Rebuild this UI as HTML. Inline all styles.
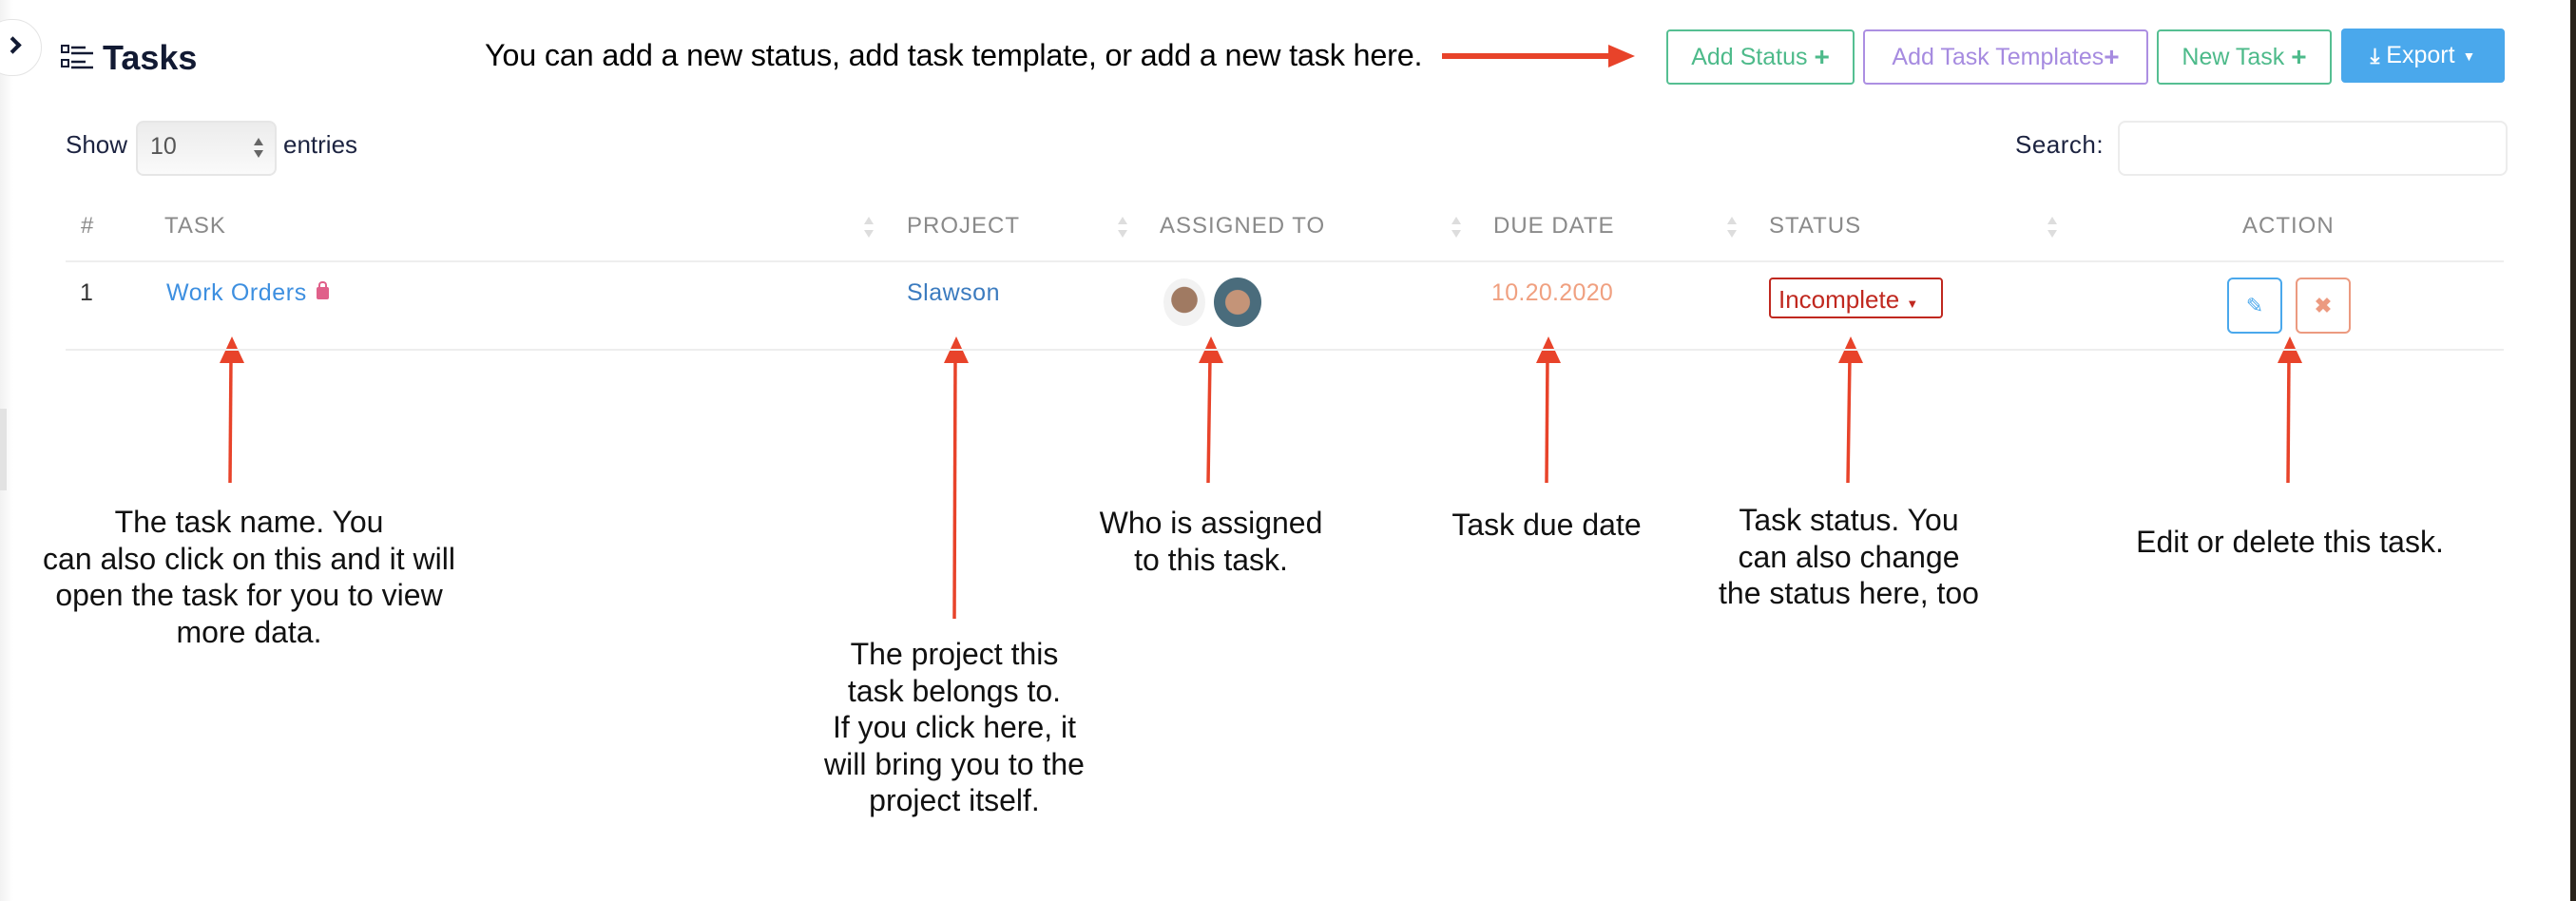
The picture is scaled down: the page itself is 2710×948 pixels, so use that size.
<!DOCTYPE html>
<html><head><meta charset="utf-8"><style>
*{margin:0;padding:0;box-sizing:border-box}
body{width:2710px;height:948px;position:relative;background:#fff;overflow:hidden;font-family:"Liberation Sans",Arial,sans-serif}
.a{position:absolute;white-space:nowrap}
.btn{position:absolute;border:2px solid;border-radius:4px;display:flex;align-items:center;justify-content:center;font-size:25px;font-family:"Liberation Sans",sans-serif}
.hd{position:absolute;top:224px;font-size:24px;color:#8a8a8a;letter-spacing:1px}
.sort{position:absolute;top:228px;width:10px;height:22px}
.sort:before{content:"";position:absolute;left:0;top:0;border-left:5px solid transparent;border-right:5px solid transparent;border-bottom:8px solid #ddd}
.sort:after{content:"";position:absolute;left:0;bottom:0;border-left:5px solid transparent;border-right:5px solid transparent;border-top:8px solid #ddd}
.note{position:absolute;text-align:center;font-size:32px;line-height:38.5px;color:#111;white-space:nowrap;transform:translateX(-50%)}
.row{position:absolute;top:294px;font-size:25px}
</style></head><body>
<div class="a" style="left:0;top:0;width:14px;height:948px;background:linear-gradient(90deg,#f2f2f2,#fff)"></div>
<div class="a" style="left:0;top:430px;width:7px;height:86px;background:#e2e2e2"></div>
<div class="a" style="left:2704px;top:0;width:6px;height:948px;background:#2a241c"></div>
<div class="a" style="left:-18px;top:20px;width:62px;height:60px;border-radius:30px;border:1.5px solid #e4e4e4;background:#fff"></div>
<div class="a" style="left:7px;top:41px;width:13px;height:13px;border-right:4px solid #121a33;border-bottom:4px solid #121a33;transform:rotate(-45deg)"></div>
<svg class="a" style="left:64px;top:46px" width="36" height="28"><g fill="none" stroke="#121a33" stroke-width="2"><rect x="1" y="2" width="7" height="7"/><rect x="1" y="17" width="7" height="7"/></g><g stroke="#121a33" stroke-width="2.5"><line x1="11" y1="4" x2="26" y2="4"/><line x1="11" y1="10" x2="34" y2="10"/><line x1="11" y1="19" x2="26" y2="19"/><line x1="11" y1="25" x2="34" y2="25"/></g></svg>
<div class="a" style="left:108px;top:40px;font-size:36px;font-weight:bold;color:#121a33">Tasks</div>
<div class="a" style="left:510px;top:40px;font-size:32.4px;color:#000;letter-spacing:-0.2px">You can add a new status, add task template, or add a new task here.</div>
<svg class="a" style="left:0;top:0" width="2710" height="948">
<g fill="#e8432a" stroke="#e8432a">
<line x1="1517" y1="59" x2="1696" y2="59" stroke-width="6"/>
<polygon points="1692,47 1720,59 1692,71" stroke="none"/>
<line x1="243" y1="375" x2="242" y2="508" stroke-width="3.5"/><polygon points="244,354 231,382 257,382" stroke="none"/>
<line x1="1005" y1="375" x2="1004" y2="651" stroke-width="3.5"/><polygon points="1006,354 993,382 1019,382" stroke="none"/>
<line x1="1273" y1="375" x2="1271" y2="508" stroke-width="3.5"/><polygon points="1274,354 1261,382 1287,382" stroke="none"/>
<line x1="1628" y1="375" x2="1627" y2="508" stroke-width="3.5"/><polygon points="1629,354 1616,382 1642,382" stroke="none"/>
<line x1="1946" y1="375" x2="1944" y2="508" stroke-width="3.5"/><polygon points="1947,354 1934,382 1960,382" stroke="none"/>
<line x1="2408" y1="375" x2="2407" y2="508" stroke-width="3.5"/><polygon points="2409,354 2396,382 2422,382" stroke="none"/>
</g></svg>
<div class="btn" style="left:1753px;top:31px;width:198px;height:58px;border-color:#55bf92;color:#4dba8a">Add Status&nbsp;<b style="font-size:28px">+</b></div>
<div class="btn" style="left:1960px;top:31px;width:300px;height:58px;border-color:#ac8fe2;color:#a68be0">Add Task Templates<b style="font-size:28px">+</b></div>
<div class="btn" style="left:2269px;top:31px;width:184px;height:58px;border-color:#55bf92;color:#4dba8a">New Task&nbsp;<b style="font-size:28px">+</b></div>
<div class="btn" style="left:2463px;top:30px;width:172px;height:57px;border-color:#4aa8ec;background:#4aa8ec;color:#fff"><b style="font-size:22px">&#10515;</b>&nbsp;Export <span style="font-size:14px;margin-left:8px">&#9660;</span></div>
<div class="a" style="left:69px;top:137px;font-size:26px;color:#1c2340">Show</div>
<div class="a" style="left:143px;top:127px;width:148px;height:58px;border:2px solid #e6e6e6;border-radius:8px;background:linear-gradient(#ececec,#fafafa)"></div>
<div class="a" style="left:158px;top:140px;font-size:25px;color:#555">10</div>
<div class="a" style="left:267px;top:145px;border-left:5px solid transparent;border-right:5px solid transparent;border-bottom:8px solid #666"></div>
<div class="a" style="left:267px;top:158px;border-left:5px solid transparent;border-right:5px solid transparent;border-top:8px solid #666"></div>
<div class="a" style="left:298px;top:137px;font-size:26px;color:#1c2340">entries</div>
<div class="a" style="left:2120px;top:137px;font-size:26px;color:#1c2340;letter-spacing:0.5px">Search:</div>
<div class="a" style="left:2228px;top:127px;width:410px;height:58px;border:2px solid #ececec;border-radius:8px"></div>
<div class="hd" style="left:85px">#</div>
<div class="hd" style="left:173px">TASK</div><div class="sort" style="left:909px"></div>
<div class="hd" style="left:954px">PROJECT</div><div class="sort" style="left:1176px"></div>
<div class="hd" style="left:1220px">ASSIGNED TO</div><div class="sort" style="left:1527px"></div>
<div class="hd" style="left:1571px">DUE DATE</div><div class="sort" style="left:1817px"></div>
<div class="hd" style="left:1861px">STATUS</div><div class="sort" style="left:2154px"></div>
<div class="hd" style="left:2359px">ACTION</div>
<div class="a" style="left:69px;top:274px;width:2565px;height:2px;background:#eee"></div>
<div class="a" style="left:69px;top:367px;width:2565px;height:2px;background:#eee"></div>
<div class="row" style="left:84px;color:#333">1</div>
<div class="row" style="left:175px;color:#3d8fe0;letter-spacing:0.6px">Work Orders</div>
<div class="a" style="left:333px;top:302px;width:13px;height:13px;background:#e0608a;border-radius:2px"></div>
<div class="a" style="left:335px;top:296px;width:9px;height:9px;border:2px solid #e0608a;border-bottom:none;border-radius:4px 4px 0 0"></div>
<div class="row" style="left:954px;color:#3b7bbf;letter-spacing:0.5px">Slawson</div>
<div class="a" style="left:1224px;top:293px;width:44px;height:50px;border-radius:50%;background:radial-gradient(circle at 50% 45%,#a07a62 0 38%,#f2f2f2 40%)"></div>
<div class="a" style="left:1277px;top:292px;width:50px;height:52px;border-radius:50%;background:radial-gradient(circle at 50% 50%,#c49478 0 35%,#4a6c7c 37%)"></div>
<div class="row" style="left:1569px;color:#f0a080;letter-spacing:0.3px">10.20.2020</div>
<div class="a" style="left:1861px;top:292px;width:183px;height:43px;border:2px solid #c0281f;border-radius:4px;color:#c0281f;font-size:26px;padding:6px 0 0 8px">Incomplete <span style="font-size:13px">&#9660;</span></div>
<div class="btn" style="left:2343px;top:292px;width:58px;height:59px;border-color:#4aa8ec;color:#4aa8ec;font-size:22px;border-radius:6px">&#9998;</div>
<div class="btn" style="left:2415px;top:292px;width:58px;height:59px;border-color:#ec9a80;color:#ec9a80;font-size:22px;font-weight:bold;border-radius:6px">&#10006;</div>
<div class="note" style="left:262px;top:530px">The task name. You<br>can also click on this and it will<br>open the task for you to view<br>more data.</div>
<div class="note" style="left:1004px;top:669px">The project this<br>task belongs to.<br>If you click here, it<br>will bring you to the<br>project itself.</div>
<div class="note" style="left:1274px;top:531px">Who is assigned<br>to this task.</div>
<div class="note" style="left:1627px;top:533px">Task due date</div>
<div class="note" style="left:1945px;top:528px">Task status. You<br>can also change<br>the status here, too</div>
<div class="note" style="left:2409px;top:551px">Edit or delete this task.</div>
</body></html>
